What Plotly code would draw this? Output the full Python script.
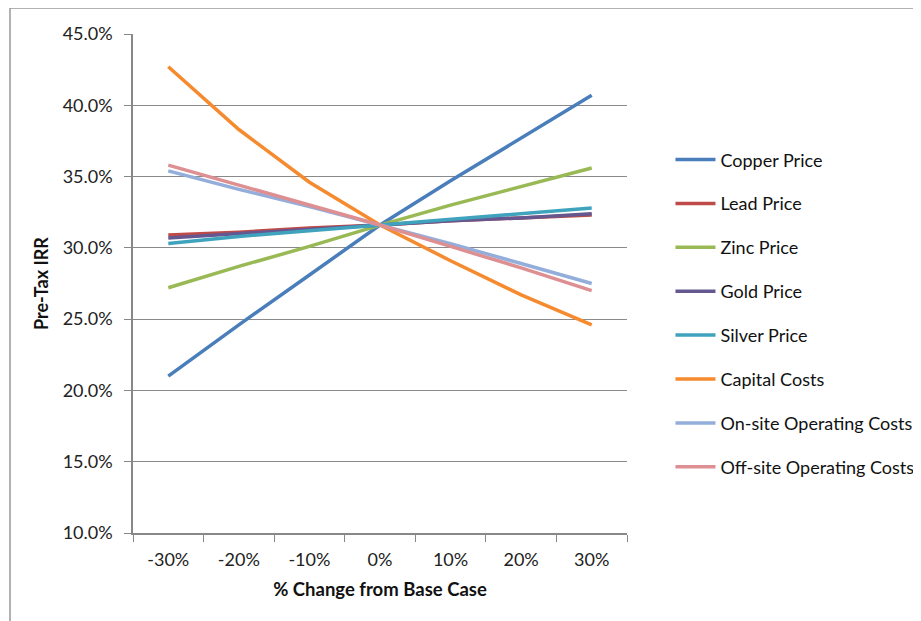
import plotly.graph_objects as go

categories = ["-30%", "-20%", "-10%", "0%", "10%", "20%", "30%"]

copper = [21.0, 24.6, 28.1, 31.6, 34.7, 37.7, 40.7]
lead = [30.9, 31.1, 31.4, 31.6, 31.9, 32.1, 32.3]
zinc = [27.2, 28.7, 30.1, 31.6, 33.0, 34.3, 35.6]
gold = [30.7, 31.0, 31.3, 31.6, 31.9, 32.1, 32.4]
silver = [30.3, 30.8, 31.2, 31.6, 32.0, 32.4, 32.8]
capital = [42.7, 38.3, 34.6, 31.6, 29.1, 26.7, 24.6]
onsite = [35.4, 34.1, 32.9, 31.6, 30.3, 28.9, 27.5]
offsite = [35.8, 34.4, 33.0, 31.6, 30.1, 28.6, 27.0]

series_names = ["Copper Price", "Lead Price", "Zinc Price", "Gold Price", "Silver Price",
                "Capital Costs", "On-site Operating Costs", "Off-site Operating Costs"]
series_values = [copper, lead, zinc, gold, silver, capital, onsite, offsite]
series_colors = ["#4A7EBB", "#BE4B48", "#98B954", "#65578F", "#3FA3BD",
                 "#F68A2E", "#93AEDA", "#DD8F92"]

FONT = "Lato, 'Open Sans', sans-serif"

# page body has an 8px margin, so compensate in the plot margins
L, T, R, B = 125, 26, 302, 96

fig = go.Figure()
for i, (name, vals, col) in enumerate(zip(series_names, series_values, series_colors)):
    fig.add_trace(go.Scatter(
        x=categories, y=vals, name=name, mode="lines",
        line=dict(color=col, width=3.5),
        legendgroup=f"g{i}",
    ))

fig.update_layout(
    width=921, height=621,
    margin=dict(l=L, r=R, t=T, b=B, autoexpand=False),
    paper_bgcolor="white", plot_bgcolor="white",
    font=dict(family=FONT, size=17, color="#222"),
    showlegend=True,
    legend=dict(
        x=1.088, y=0.785, xanchor="left", yanchor="top",
        font=dict(family=FONT, size=18, color="#111"),
        tracegroupgap=17.5, itemwidth=40,
        bgcolor="rgba(0,0,0,0)",
    ),
    xaxis=dict(
        type="category", tickson="boundaries", range=[-0.5, 6.5],
        showline=True, linecolor="#888", linewidth=1.5,
        ticks="outside", ticklen=7, tickcolor="#888",
        showgrid=False, zeroline=False,
        ticklabelstandoff=10,
        tickfont=dict(family=FONT, size=18, color="#222"),
        title=dict(text="<b>% Change from Base Case</b>", font=dict(family=FONT, size=18.5, color="#111"), standoff=14),
    ),
    yaxis=dict(
        range=[10, 45], dtick=5, tick0=10,
        tickformat=".1f", ticksuffix="%",
        showline=True, linecolor="#888", linewidth=1.5,
        ticks="outside", ticklen=7, tickcolor="#888",
        showgrid=True, gridcolor="#8a8a8a", gridwidth=1.3,
        zeroline=False,
        ticklabelstandoff=8,
        tickfont=dict(family=FONT, size=18, color="#222"),
        title=dict(text="<b>Pre-Tax IRR</b>", font=dict(family=FONT, size=18, color="#111"), standoff=9),
    ),
)

# outer frame (chart border); right and bottom edges run off the page
pw = 921 - L - R
ph = 621 - T - B
fig.add_shape(type="rect", xref="paper", yref="paper",
              x0=(2 - L) / pw, x1=(940 - L) / pw,
              y0=(ph + T - 640) / ph, y1=(ph + T - 0) / ph,
              line=dict(color="#999", width=1.5), layer="below")

fig.write_html("out.html")
